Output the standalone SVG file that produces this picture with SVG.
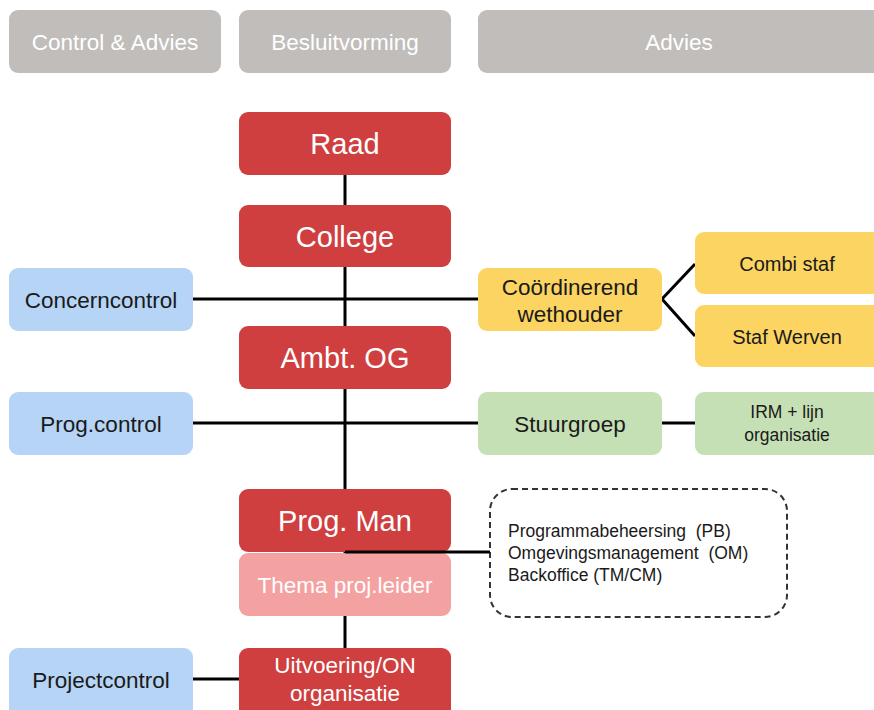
<svg xmlns="http://www.w3.org/2000/svg" width="874" height="710" viewBox="0 0 874 710">
<style>
text{font-family:"Liberation Sans",Arial,sans-serif;text-anchor:middle;dominant-baseline:central}
.hdr rect{fill:#c1bdbb}
.hdr text{fill:#fff;font-size:22.5px}
.red rect{fill:#cf3f40}
.red text{fill:#fff}
.blue rect{fill:#b5d4f6}
.yel rect{fill:#fbd462}
.grn rect{fill:#c6e0b5}
.dark{fill:#1a1a1a;font-size:22.5px}
.sm18{font-size:20px}
.sm15{font-size:17.5px}
.ln{stroke:#000;stroke-width:3;fill:none}
.lst{text-anchor:start;white-space:pre;font-size:17.5px;fill:#1a1a1a}
</style>
<g id="hdr-control" class="hdr"><rect x="9" y="10" width="212" height="63" rx="9"/><text x="115" y="42">Control &amp; Advies</text></g>
<g id="hdr-besluit" class="hdr"><rect x="239" y="10" width="212" height="63" rx="9"/><text x="345" y="42">Besluitvorming</text></g>
<g id="hdr-advies" class="hdr"><rect x="478" y="10" width="410" height="63" rx="9"/><text x="679" y="42">Advies</text></g>

<g id="connectors">
<line class="ln" x1="345" y1="175" x2="345" y2="648"/>
<line class="ln" x1="193" y1="299" x2="478" y2="299"/>
<polyline class="ln" points="695,264 662,299 695,336"/>
<line class="ln" x1="193" y1="423" x2="478" y2="423"/>
<line class="ln" x1="662" y1="423" x2="695" y2="423"/>
<line class="ln" x1="193" y1="679" x2="239" y2="679"/>
</g>

<g id="raad" class="red"><rect x="239" y="112" width="212" height="63" rx="9"/><text x="345" y="144" font-size="29">Raad</text></g>
<g id="college" class="red"><rect x="239" y="205" width="212" height="62" rx="9"/><text x="345" y="237" font-size="29">College</text></g>
<g id="ambt" class="red"><rect x="239" y="326" width="212" height="63" rx="9"/><text x="345" y="358" font-size="29">Ambt. OG</text></g>
<g id="progman" class="red"><rect x="239" y="489" width="212" height="63" rx="9"/><text x="345" y="521" font-size="29">Prog. Man</text></g>
<g id="thema"><rect x="239" y="553" width="212" height="63" rx="9" fill="#f4a1a2"/><text x="345" y="585" font-size="22.5" fill="#fff">Thema proj.leider</text></g>
<g id="uitvoering" class="red"><rect x="239" y="648" width="212" height="70" rx="9"/><text x="345" y="665" font-size="22.5">Uitvoering/ON</text><text x="345" y="693" font-size="22.5">organisatie</text></g>

<g id="concerncontrol" class="blue"><rect x="9" y="268" width="184" height="63" rx="9"/><text class="dark" x="101" y="300">Concerncontrol</text></g>
<g id="progcontrol" class="blue"><rect x="9" y="392" width="184" height="63" rx="9"/><text class="dark" x="101" y="424">Prog.control</text></g>
<g id="projectcontrol" class="blue"><rect x="9" y="648" width="184" height="70" rx="9"/><text class="dark" x="101" y="680">Projectcontrol</text></g>

<g id="coord" class="yel"><rect x="478" y="268" width="184" height="63" rx="9"/><text class="dark" x="570" y="287">Coördinerend</text><text class="dark" x="570" y="314">wethouder</text></g>
<g id="combistaf" class="yel"><rect x="695" y="232" width="190" height="62" rx="9"/><text class="dark sm18" x="787" y="264">Combi staf</text></g>
<g id="stafwerven" class="yel"><rect x="695" y="305" width="190" height="62" rx="9"/><text class="dark sm18" x="787" y="337">Staf Werven</text></g>

<g id="stuurgroep" class="grn"><rect x="478" y="392" width="184" height="63" rx="9"/><text class="dark" x="570" y="424">Stuurgroep</text></g>
<g id="irm" class="grn"><rect x="695" y="392" width="190" height="63" rx="9"/><text class="dark sm15" x="787" y="412">IRM + lijn</text><text class="dark sm15" x="787" y="435">organisatie</text></g>

<g id="dashed"><rect x="490" y="489" width="297" height="128" rx="22" fill="#fff" stroke="#333" stroke-width="2" stroke-dasharray="6,4"/>
<text class="lst" x="508" y="531">Programmabeheersing  (PB)</text><text class="lst" x="508" y="553">Omgevingsmanagement  (OM)</text><text class="lst" x="508" y="575">Backoffice (TM/CM)</text></g>
<g id="connector-progman"><line class="ln" x1="345" y1="552" x2="490" y2="552"/></g>
</svg>
